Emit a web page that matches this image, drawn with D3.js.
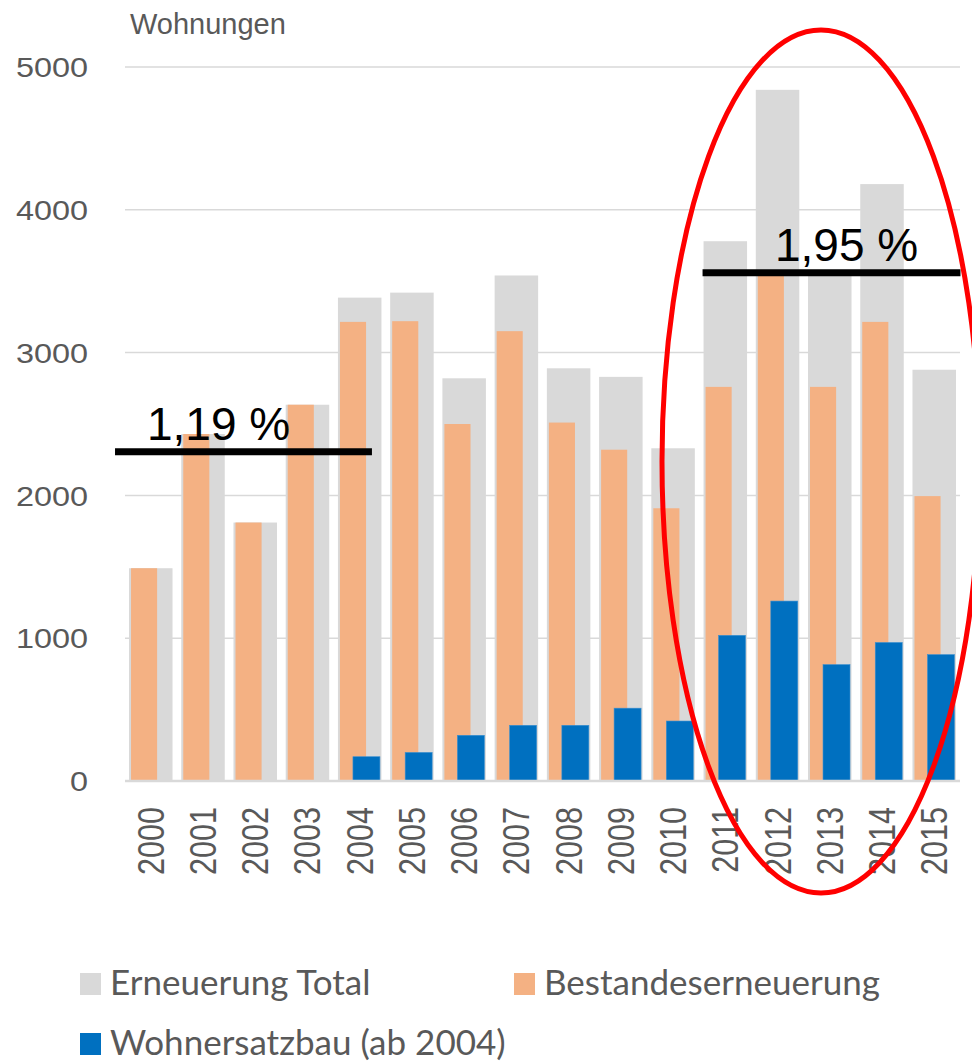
<!DOCTYPE html>
<html>
<head>
<meta charset="utf-8">
<script src="https://cdn.jsdelivr.net/npm/d3@7"></script>
<style>
  html, body { margin: 0; padding: 0; background: #fff; }
  svg { display: block; }
</style>
</head>
<body>
<svg id="chart" width="972" height="1062"></svg>
<script>
// Years on the x axis
const years = ["2000","2001","2002","2003","2004","2005","2006","2007",
               "2008","2009","2010","2011","2012","2013","2014","2015"];
// Erneuerung Total (dwellings)
const totalValues = [1490, 2430, 1810, 2635, 3385, 3420, 2820, 3540,
                     2890, 2830, 2330, 3780, 4840, 3570, 4180, 2880];
// Bestandeserneuerung (dwellings)
const stockValues = [1490, 2430, 1810, 2635, 3215, 3220, 2500, 3150,
                     2510, 2320, 1910, 2760, 3550, 2760, 3215, 1995];
// Wohnersatzbau, recorded from 2004 on
const replacementValues = [null, null, null, null, 170, 200, 320, 390,
                           390, 510, 420, 1020, 1260, 815, 970, 885];
// Y axis ticks
const yTicks = [0, 1000, 2000, 3000, 4000, 5000];
// Average renewal-rate markers: label, value level, first and last year covered
const rateLabels = ["1,19 %", "1,95 %"];
const rateLevels = [2305, 3560];
const rateSpans = [["2000", "2004"], ["2011", "2015"]];
// Legend entries
const legendLabels = ["Erneuerung Total", "Bestandeserneuerung", "Wohnersatzbau (ab 2004)"];

const colors = { total: "#d9d9d9", stock: "#f4b183", replacement: "#0070c0" };
const textColor = "#595959";

const svg = d3.select("#chart");

const x = d3.scaleBand()
  .domain(years)
  .range([125, 960])
  .paddingInner(0.167)
  .paddingOuter(0.077);

const y = d3.scaleLinear()
  .domain([0, 5000])
  .range([781, 67]);

const bw = x.bandwidth();

// Horizontal gridlines
svg.append("g")
  .selectAll("line")
  .data(yTicks.filter(d => d > 0))
  .join("line")
  .attr("x1", 125).attr("x2", 960)
  .attr("y1", d => y(d)).attr("y2", d => y(d))
  .attr("stroke", "#d9d9d9")
  .attr("stroke-width", 1.5);

// Y axis labels (axis line hidden)
const yAxis = svg.append("g")
  .attr("transform", "translate(88,0)")
  .call(d3.axisLeft(y).tickValues(yTicks).tickSize(0).tickPadding(0).tickFormat(d3.format("d")));
yAxis.select(".domain").remove();
yAxis.selectAll("text")
  .attr("font-family", "Liberation Sans, Arial, sans-serif")
  .attr("font-size", 27)
  .attr("fill", textColor)
  .attr("dy", "0.36em")
  .attr("text-anchor", "end")
  .attr("transform", "scale(1.2,1)")
  .attr("x", 0);

// Total bars (wide, behind)
svg.append("g")
  .selectAll("rect")
  .data(years.map((yr, i) => ({ yr, v: totalValues[i] })))
  .join("rect")
  .attr("x", d => x(d.yr))
  .attr("width", bw)
  .attr("y", d => y(d.v))
  .attr("height", d => y(0) - y(d.v))
  .attr("fill", colors.total);

// Stock renewal bars (narrow, left)
svg.append("g")
  .selectAll("rect")
  .data(years.map((yr, i) => ({ yr, v: stockValues[i] })))
  .join("rect")
  .attr("x", d => x(d.yr) + bw * 0.046)
  .attr("width", bw * 0.6)
  .attr("y", d => y(d.v))
  .attr("height", d => y(0) - y(d.v))
  .attr("fill", colors.stock);

// Replacement construction bars (narrow, offset right)
svg.append("g")
  .selectAll("rect")
  .data(years.map((yr, i) => ({ yr, v: replacementValues[i] })).filter(d => d.v !== null))
  .join("rect")
  .attr("x", d => x(d.yr) + bw * 0.345)
  .attr("width", bw * 0.62)
  .attr("y", d => y(d.v))
  .attr("height", d => y(0) - y(d.v))
  .attr("fill", colors.replacement)
  .attr("stroke", "#3a8fd0")
  .attr("stroke-width", 0.6);

// Baseline
svg.append("line")
  .attr("x1", 125).attr("x2", 960)
  .attr("y1", y(0)).attr("y2", y(0))
  .attr("stroke", "#d9d9d9")
  .attr("stroke-width", 2.5);

// Rotated year labels
svg.append("g")
  .selectAll("text")
  .data(years)
  .join("text")
  .attr("transform", d => `translate(${x(d) + bw / 2},807) scale(1.18,1) rotate(-90)`)
  .attr("text-anchor", "end")
  .attr("dy", "0.36em")
  .attr("font-family", "Liberation Sans, Arial, sans-serif")
  .attr("font-size", 30.6)
  .attr("fill", textColor)
  .text(d => d);

// Axis title
svg.append("text")
  .attr("x", 130).attr("y", 34)
  .attr("font-family", "Liberation Sans, Arial, sans-serif")
  .attr("font-size", 29)
  .attr("fill", textColor)
  .text("Wohnungen");

// Renewal-rate markers
const rateLineX = [[-14, 34], [-1, 48]];
const rateTextX = [147, 775];
rateLabels.forEach((lbl, i) => {
  const [a, b] = rateSpans[i];
  svg.append("line")
    .attr("x1", x(a) + rateLineX[i][0])
    .attr("x2", x(b) + rateLineX[i][1])
    .attr("y1", y(rateLevels[i])).attr("y2", y(rateLevels[i]))
    .attr("stroke", "#000")
    .attr("stroke-width", 7);
  svg.append("text")
    .attr("x", rateTextX[i])
    .attr("y", y(rateLevels[i]) - 12)
    .attr("font-family", "Liberation Sans, Arial, sans-serif")
    .attr("font-size", 46)
    .attr("fill", "#000")
    .text(lbl);
});

// Highlight ellipse around 2011-2015
svg.append("ellipse")
  .attr("cx", 821)
  .attr("cy", 461.5)
  .attr("rx", 159)
  .attr("ry", 431.5)
  .attr("fill", "none")
  .attr("stroke", "#ff0000")
  .attr("stroke-width", 5);

// Legend
const legendPos = [[80, 995], [514, 995], [80, 1055]];
const legendColors = [colors.total, colors.stock, colors.replacement];
const legend = svg.append("g");
legendLabels.forEach((lbl, i) => {
  const [lx, ly] = legendPos[i];
  legend.append("rect")
    .attr("x", lx).attr("y", ly - 22)
    .attr("width", 21).attr("height", 22)
    .attr("fill", legendColors[i]);
  legend.append("text")
    .attr("x", lx + 30).attr("y", ly)
    .attr("font-family", "Lato, sans-serif")
    .attr("font-size", 35)
    .attr("fill", textColor)
    .text(lbl);
});
</script>
</body>
</html>
